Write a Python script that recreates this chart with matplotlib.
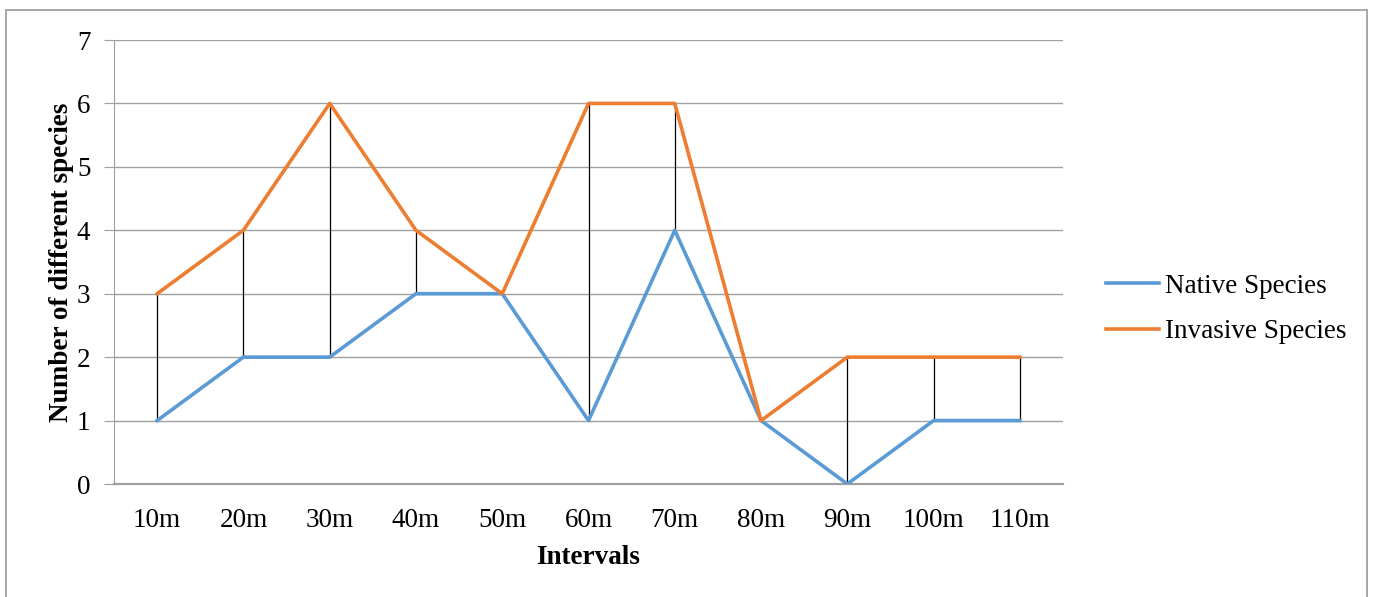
import matplotlib.pyplot as plt
from matplotlib.patches import Rectangle

intervalos = ["10m", "20m", "30m", "40m", "50m", "60m", "70m", "80m", "90m", "100m", "110m"]
nativas = [1, 2, 2, 3, 3, 1, 4, 1, 0, 1, 1]
invasoras = [3, 4, 6, 4, 3, 6, 6, 1, 2, 2, 2]

plt.rcParams["font.family"] = ["Liberation Serif", "DejaVu Serif"]

fig = plt.figure(figsize=(13.75, 5.97), dpi=100)
ax = fig.add_axes([114 / 1375, 1 - 484 / 597, (1063 - 114) / 1375, (484 - 40) / 597])

x = list(range(len(intervalos)))

# lineas alto-bajo entre las dos series
ax.vlines(x, nativas, invasoras, colors="black", linewidth=0.9, zorder=2)
ax.plot(x, nativas, color="#5b9bd5", linewidth=2.6, label="Native Species", zorder=3)
ax.plot(x, invasoras, color="#ed7d31", linewidth=2.6, label="Invasive Species", zorder=3)

ax.set_xlim(-0.5, len(intervalos) - 0.5)
ax.set_ylim(0, 7)
ax.set_yticks(range(0, 8))
ax.set_xticks(x)
ax.set_xticklabels(intervalos)
ax.grid(axis="y", color="#a0a0a0", linewidth=1)
ax.set_axisbelow(True)

for lado in ["top", "right"]:
    ax.spines[lado].set_visible(False)
ax.spines["left"].set_color("#a0a0a0")
ax.spines["bottom"].set_color("#a0a0a0")
ax.spines["bottom"].set_linewidth(1.6)
ax.tick_params(axis="y", length=7, color="#a0a0a0", labelsize=19.5, pad=10)
ax.tick_params(axis="x", length=0, labelsize=19.5, pad=17)

ax.set_xlabel("Intervals", fontsize=19.5, fontweight="bold", labelpad=9)
ax.set_ylabel("Number of different species", fontsize=19.5, fontweight="bold", labelpad=2)

fig.legend(loc="center left", bbox_to_anchor=(1082 / 1375, 1 - 309 / 597), frameon=False,
           fontsize=19.5, handlelength=1.95, handletextpad=0.2, labelspacing=0.75)

# marco exterior
fig.patches.append(Rectangle((6 / 1375, -0.05), (1367 - 6) / 1375, 1.05 - 10 / 597,
                             transform=fig.transFigure, fill=False, edgecolor="#a0a0a0",
                             linewidth=1.3))

fig.savefig("out.png", dpi=100)
